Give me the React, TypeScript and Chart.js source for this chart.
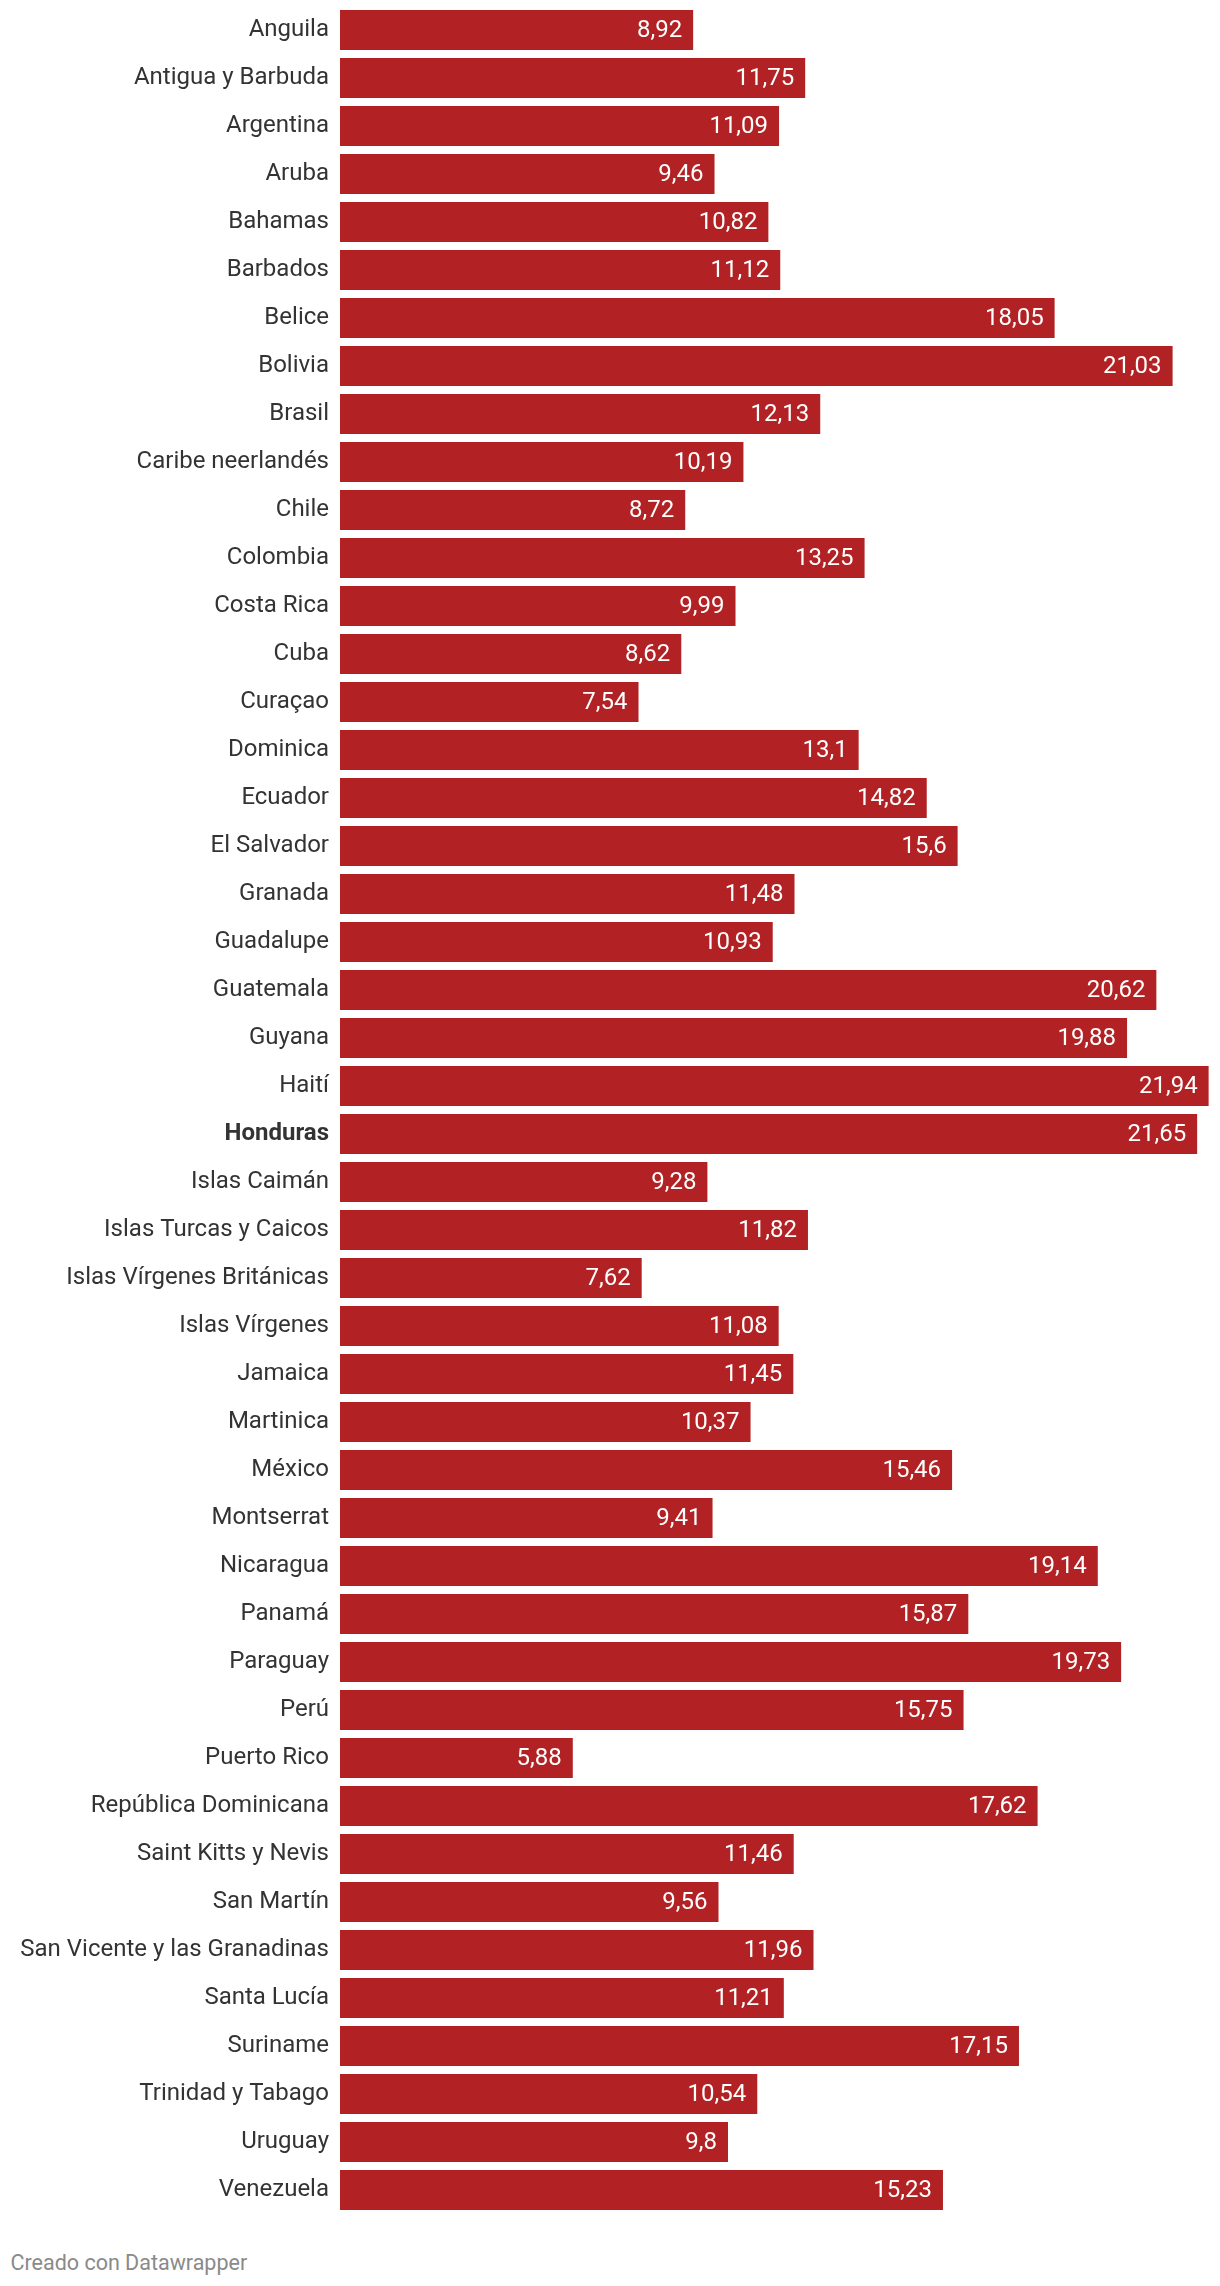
import React, { useEffect, useRef } from "react";
import { Chart, registerables } from "chart.js";

Chart.register(...registerables);

const categories: string[] = [
  "Anguila", "Antigua y Barbuda", "Argentina", "Aruba", "Bahamas", "Barbados", "Belice", "Bolivia",
  "Brasil", "Caribe neerlandés", "Chile", "Colombia", "Costa Rica", "Cuba", "Curaçao", "Dominica",
  "Ecuador", "El Salvador", "Granada", "Guadalupe", "Guatemala", "Guyana", "Haití", "Honduras",
  "Islas Caimán", "Islas Turcas y Caicos", "Islas Vírgenes Británicas", "Islas Vírgenes", "Jamaica",
  "Martinica", "México", "Montserrat", "Nicaragua", "Panamá", "Paraguay", "Perú", "Puerto Rico",
  "República Dominicana", "Saint Kitts y Nevis", "San Martín", "San Vicente y las Granadinas",
  "Santa Lucía", "Suriname", "Trinidad y Tabago", "Uruguay", "Venezuela",
];

const values: number[] = [
  8.92, 11.75, 11.09, 9.46, 10.82, 11.12, 18.05, 21.03,
  12.13, 10.19, 8.72, 13.25, 9.99, 8.62, 7.54, 13.1,
  14.82, 15.6, 11.48, 10.93, 20.62, 19.88, 21.94, 21.65,
  9.28, 11.82, 7.62, 11.08, 11.45,
  10.37, 15.46, 9.41, 19.14, 15.87, 19.73, 15.75, 5.88,
  17.62, 11.46, 9.56, 11.96,
  11.21, 17.15, 10.54, 9.8, 15.23,
];

const highlighted = "Honduras";
const footerText = "Creado con Datawrapper";

const BAR_COLOR = "#b22123";
const FONT = "Roboto";

const valueLabels = {
  id: "valueLabels",
  afterDatasetsDraw(chart: any) {
    const ctx = chart.ctx;
    const meta = chart.getDatasetMeta(0);
    const data = chart.data.datasets[0].data as number[];
    ctx.save();
    ctx.font = `400 24px ${FONT}`;
    ctx.fillStyle = "#ffffff";
    ctx.textAlign = "right";
    ctx.textBaseline = "middle";
    meta.data.forEach((bar: any, i: number) => {
      const label = String(data[i]).replace(".", ",");
      ctx.fillText(label, bar.x - 11, bar.y + 1);
    });
    ctx.restore();
  },
};

export default function App() {
  const canvasRef = useRef<HTMLCanvasElement | null>(null);

  useEffect(() => {
    document.body.style.margin = "0";
    const canvas = canvasRef.current;
    if (!canvas) return;
    const chart = new Chart(canvas, {
      type: "bar",
      data: {
        labels: categories,
        datasets: [
          {
            data: values,
            backgroundColor: BAR_COLOR,
            borderWidth: 0,
            barPercentage: 1,
            categoryPercentage: 40 / 48,
          },
        ],
      },
      options: {
        indexAxis: "y",
        animation: false,
        responsive: false,
        devicePixelRatio: 1,
        layout: { padding: { top: 6, bottom: 6, left: 0, right: 9 } },
        plugins: {
          legend: { display: false },
          tooltip: { enabled: false },
          title: { display: false },
        },
        scales: {
          x: {
            display: false,
            min: 0,
            max: 22,
            grid: { display: false },
          },
          y: {
            grid: { display: false, drawTicks: false },
            border: { display: false },
            afterFit: (scale: any) => {
              scale.width = 340;
              scale.paddingTop = 0;
              scale.paddingBottom = 0;
            },
            ticks: {
              autoSkip: false,
              padding: 11,
              color: "#333333",
              font: (c: any) => ({
                family: FONT,
                size: 24,
                weight: c.tick && c.tick.label === highlighted ? "bold" : "normal",
              }),
            },
          },
        },
      },
      plugins: [valueLabels],
    });
    return () => chart.destroy();
  }, []);

  return (
    <div style={{ position: "relative", width: 1220, height: 2286, background: "#fff" }}>
      <canvas ref={canvasRef} width={1220} height={2220} style={{ display: "block" }} />
      <div
        style={{
          position: "absolute",
          left: 10.5,
          top: 2252,
          fontFamily: FONT,
          fontSize: 21.5,
          lineHeight: "22px",
          color: "#8a8a8a",
          whiteSpace: "nowrap",
        }}
      >
        {footerText}
      </div>
    </div>
  );
}
